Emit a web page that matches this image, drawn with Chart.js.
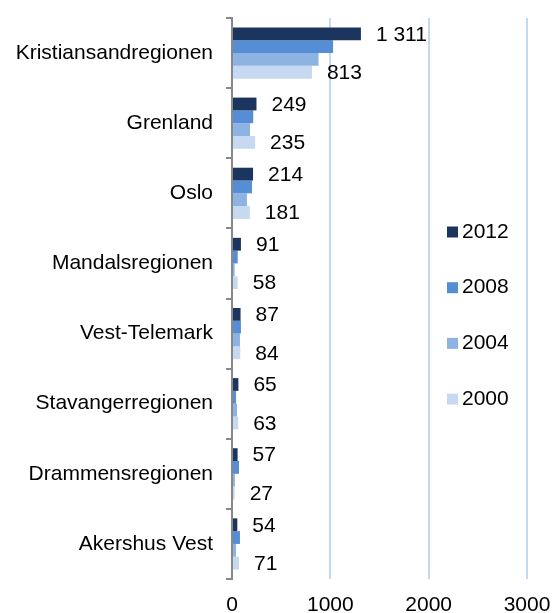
<!DOCTYPE html>
<html>
<head>
<meta charset="utf-8">
<script src="https://cdn.jsdelivr.net/npm/chart.js@4"></script>
<style>
  html, body { margin: 0; padding: 0; background: #fff; }
  #wrap { width: 552px; height: 613px; }
</style>
</head>
<body>
<div id="wrap"><canvas id="graph"></canvas></div>
<script>
const regions = [
  "Kristiansandregionen", "Grenland", "Oslo", "Mandalsregionen",
  "Vest-Telemark", "Stavangerregionen", "Drammensregionen", "Akershus Vest"
];
const years = ["2012", "2008", "2004", "2000"];
const values2012 = [1311, 249, 214, 91, 87, 65, 57, 54];
const values2008 = [1028, 216, 203, 58, 91, 41, 71, 81];
const values2004 = [880, 183, 152, 27, 81, 51, 30, 41];
const values2000 = [813, 235, 181, 58, 84, 63, 27, 71];
const barColors = ["#1c355e", "#558ed5", "#8db3e2", "#c6d9f1"];
const xTicks = [0, 1000, 2000, 3000];

const FONT = "'Liberation Sans', Arial, sans-serif";

// thousands with a space, e.g. "1 311"
function fmt(v) {
  return String(v).replace(/\B(?=(\d{3})+(?!\d))/g, " ");
}

// value labels next to the first and last bar of each group
const valueLabels = {
  id: "valueLabels",
  afterDatasetsDraw(chart) {
    const ctx = chart.ctx;
    ctx.save();
    ctx.font = "21px " + FONT;
    ctx.fillStyle = "#000";
    ctx.textAlign = "left";
    ctx.textBaseline = "middle";
    [0, 3].forEach(function (di) {
      const meta = chart.getDatasetMeta(di);
      meta.data.forEach(function (bar, i) {
        const v = chart.data.datasets[di].data[i];
        ctx.fillText(fmt(v), bar.x + 15, bar.y + 1);
      });
    });
    ctx.restore();
  }
};

// legend column drawn over the plot area
const sideLegend = {
  id: "sideLegend",
  afterDraw(chart) {
    const ctx = chart.ctx;
    ctx.save();
    ctx.font = "21px " + FONT;
    ctx.textBaseline = "middle";
    ctx.textAlign = "left";
    chart.data.datasets.forEach(function (ds, i) {
      const y = 232 + i * 55.7;
      ctx.fillStyle = ds.backgroundColor;
      ctx.fillRect(447, y - 5.5, 11, 11);
      ctx.fillStyle = "#000";
      ctx.fillText(ds.label, 462, y);
    });
    ctx.restore();
  }
};

const graph = new Chart(document.getElementById("graph").getContext("2d"), {
  type: "bar",
  data: {
    labels: regions,
    datasets: [
      { label: years[0], data: values2012, backgroundColor: barColors[0] },
      { label: years[1], data: values2008, backgroundColor: barColors[1] },
      { label: years[2], data: values2004, backgroundColor: barColors[2] },
      { label: years[3], data: values2000, backgroundColor: barColors[3] },
    ],
  },
  options: {
    indexAxis: "y",
    responsive: true,
    maintainAspectRatio: false,
    animation: false,
    datasets: {
      bar: { categoryPercentage: 0.73, barPercentage: 1.0, borderWidth: 0 }
    },
    layout: { padding: { top: 18, right: 25, left: 0, bottom: 0 } },
    plugins: {
      legend: { display: false },
      tooltip: { enabled: false },
    },
    scales: {
      x: {
        min: 0,
        max: 3000,
        afterBuildTicks: function (scale) {
          scale.ticks = xTicks.map(function (v) { return { value: v }; });
        },
        afterFit: function (scale) {
          scale.height = 34;
          scale.paddingLeft = 0;
          scale.paddingRight = 0;
        },
        ticks: {
          color: "#000",
          font: { family: FONT, size: 21 },
          padding: 14,
          callback: function (v) { return String(v); },
        },
        grid: {
          drawTicks: false,
          lineWidth: 2,
          color: function (c) { return c.tick && c.tick.value === 0 ? "rgba(0,0,0,0)" : "#c6d9f1"; },
        },
        border: { display: false },
      },
      y: {
        afterFit: function (scale) {
          scale.width = 232;
          scale.paddingTop = 0;
          scale.paddingBottom = 0;
        },
        ticks: {
          color: "#000",
          font: { family: FONT, size: 21 },
          padding: 13,
        },
        grid: {
          drawOnChartArea: false,
          drawTicks: true,
          tickLength: 6,
          color: "#888",
          lineWidth: 2,
        },
        border: { display: true, color: "#888", width: 2 },
      },
    },
  },
  plugins: [valueLabels, sideLegend],
});
</script>
</body>
</html>
